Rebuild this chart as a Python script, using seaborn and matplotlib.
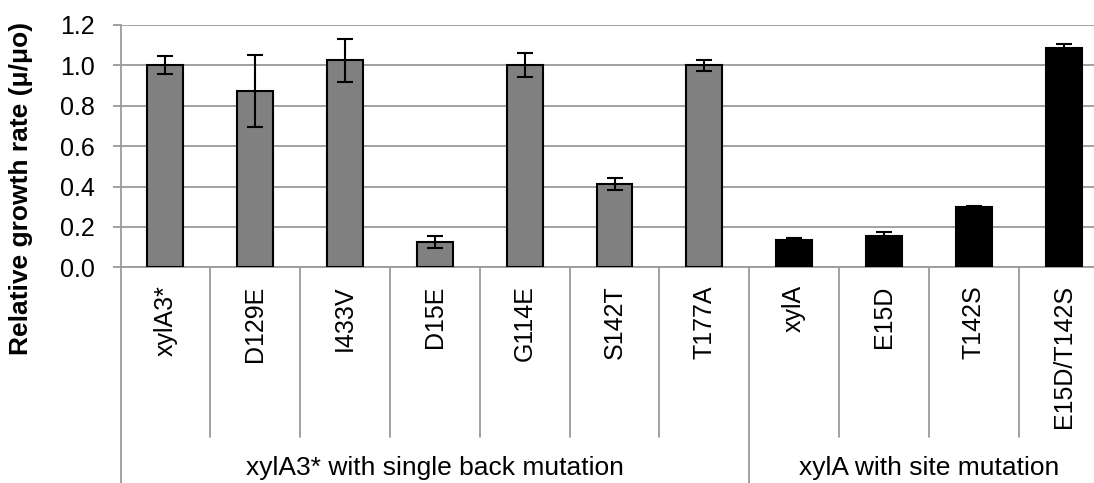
import matplotlib
matplotlib.use("Agg")
import matplotlib.pyplot as plt
import matplotlib.transforms as mtransforms
import seaborn as sns
import pandas as pd

categories = ["xylA3*", "D129E", "I433V", "D15E", "G114E", "S142T", "T177A",
              "xylA", "E15D", "T142S", "E15D/T142S"]
values = [1.00, 0.873, 1.025, 0.124, 1.00, 0.414, 1.00, 0.135, 0.157, 0.297, 1.088]
errors = [0.044, 0.18, 0.105, 0.029, 0.06, 0.03, 0.028, 0.008, 0.019, 0.008, 0.018]
groups = ["xylA3* with single back mutation"] * 7 + ["xylA with site mutation"] * 4
group_names = ["xylA3* with single back mutation", "xylA with site mutation"]
group_colors = ["#808080", "#000000"]

df = pd.DataFrame({"cat": categories, "val": values, "err": errors, "grp": groups})

sns.set_theme(style="white")
plt.rcParams["font.family"] = ["Liberation Sans", "DejaVu Sans"]
plt.rcParams["text.color"] = "black"
plt.rcParams["axes.labelcolor"] = "black"
plt.rcParams["xtick.color"] = "black"
plt.rcParams["ytick.color"] = "black"

W, H = 1094, 483
fig = plt.figure(figsize=(W / 100, H / 100), dpi=100)
left, right, top, bottom = 120.5, 1108.5, 25.0, 267.3
ax = fig.add_axes([left / W, 1 - bottom / H, (right - left) / W, (bottom - top) / H])

sns.barplot(data=df, x="cat", y="val", hue="grp", hue_order=group_names,
            palette=group_colors, dodge=False, width=0.4, edgecolor="black",
            linewidth=1.5, errorbar=None, legend=False, ax=ax, zorder=3)
ax.errorbar(range(len(categories)), df["val"], yerr=df["err"], fmt="none",
            ecolor="black", elinewidth=1.5, capsize=6, capthick=1.5, zorder=4)

grid_c = "#9a9a9a"
ax.set_ylim(0, 1.2)
ax.set_xlim(-0.5, len(categories) - 0.5)
yt = [0, 0.2, 0.4, 0.6, 0.8, 1.0, 1.2]
ax.set_yticks(yt)
ax.set_yticklabels([f"{v:.1f}" for v in yt], fontsize=18, color="black")
ax.yaxis.grid(True, color=grid_c, linewidth=1.3, zorder=0)
ax.set_axisbelow(True)
for s in ["top", "right"]:
    ax.spines[s].set_visible(False)
for s in ["left", "bottom"]:
    ax.spines[s].set_color(grid_c)
    ax.spines[s].set_linewidth(1.3)
ax.tick_params(axis="y", left=True, length=5.8, width=1.3, color=grid_c, pad=12.5, labelcolor="black")

ax.set_xticks(range(len(categories)))
ax.set_xticklabels(categories, rotation=90, fontsize=18, va="top", ha="center", color="black")
ax.tick_params(axis="x", bottom=False, length=0, pad=13, labelcolor="black")
ax.set_xlabel("")
ax.set_ylabel("Relative growth rate (μ/μo)", fontsize=19, fontweight="bold", color="black")
ax.yaxis.set_label_coords(-(left - 33) / (right - left), (bottom - 188) / (bottom - top))

trans = mtransforms.blended_transform_factory(ax.transData, ax.transAxes)
ph = bottom - top
cat_bottom = -(437 - bottom) / ph
grp_bottom = -(490 - bottom) / ph
for i in range(1, len(categories)):
    b = grp_bottom if i == 7 else cat_bottom
    ax.plot([i - 0.5, i - 0.5], [0, b], transform=trans, color=grid_c, lw=1.3, clip_on=False)
for xg in [-0.5, len(categories) - 0.5]:
    ax.plot([xg, xg], [0, grp_bottom], transform=trans, color=grid_c, lw=1.3, clip_on=False)

ax.text(3.0, -(468 - bottom) / ph, group_names[0], transform=trans, ha="center",
        va="center", fontsize=19, color="black")
ax.text(8.5, -(468 - bottom) / ph, group_names[1], transform=trans, ha="center",
        va="center", fontsize=19, color="black")

fig.savefig("out.png", dpi=100)
